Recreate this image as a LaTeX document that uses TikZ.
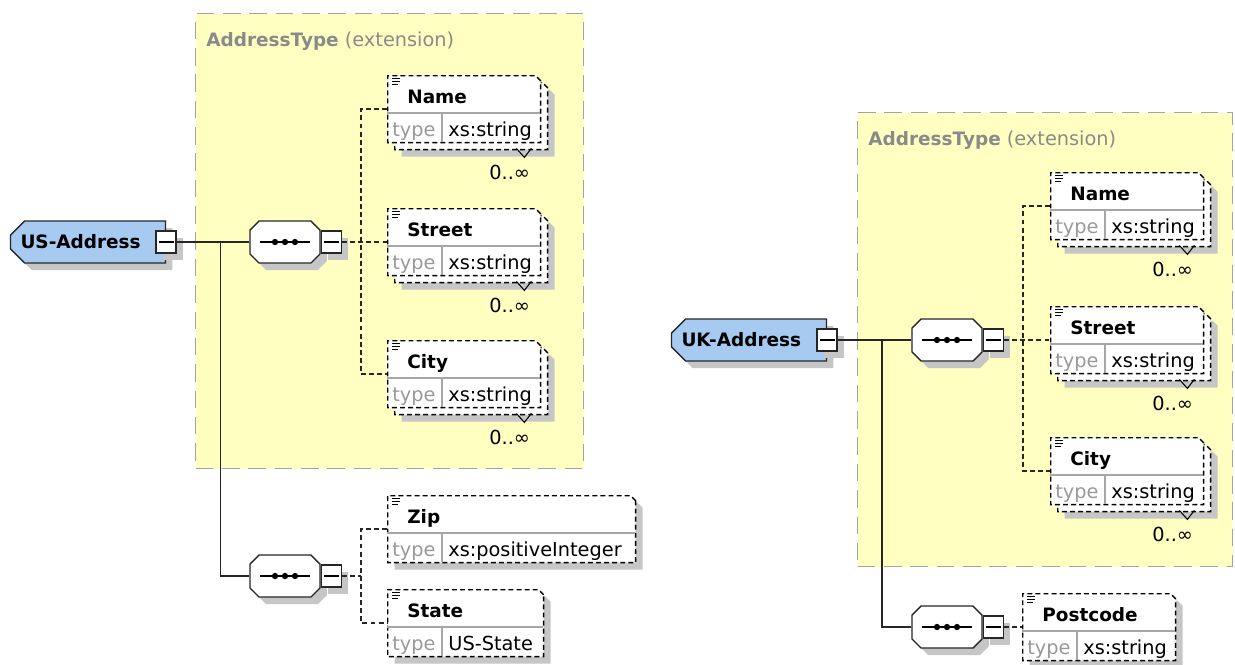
\documentclass[tikz,border=0pt]{standalone}
\usepackage{fontspec}
\setmainfont{DejaVu Sans}
\usepackage{tikz}
\usetikzlibrary{positioning, shapes.misc, shadows, calc}

\definecolor{extyellow}{HTML}{FFFFC2}
\definecolor{typeblue}{HTML}{A6CAF0}
\definecolor{shadowgray}{HTML}{C6C6C6}
\definecolor{framegray}{HTML}{A3A3A3}
\definecolor{labelgray}{HTML}{8A8A8A}

\begin{document}
\begin{tikzpicture}[
        x=0.02cm, y=-0.02cm,
        font=\fontsize{11}{13}\selectfont,
        shadowed/.style={drop shadow={shadow xshift=0.14cm, shadow yshift=-0.14cm,
                         fill=shadowgray, opacity=1}},
        extbox/.style={draw=framegray, fill=extyellow, line width=0.8pt,
                       dash pattern=on 10pt off 5pt, anchor=north west, inner sep=0pt},
        extlabel/.style={anchor=base west, inner sep=0pt, text=labelgray},
        typenode/.style={chamfered rectangle, chamfered rectangle corners={north west, south west},
                         chamfered rectangle xsep=0.14cm, chamfered rectangle ysep=0.14cm,
                         draw=black!85, fill=typeblue,
                         line width=0.8pt, text width=2.7cm, align=left,
                         minimum height=0.84cm, inner xsep=0.06cm, inner ysep=0pt,
                         font=\bfseries\fontsize{10.5}{12}\selectfont, shadowed},
        seqnode/.style={chamfered rectangle, chamfered rectangle xsep=0.09cm,
                        chamfered rectangle ysep=0.09cm, draw=black!85,
                        fill=white, line width=0.8pt, inner xsep=0.61cm,
                        inner ysep=0.33cm, shadowed,
                        path picture={
                            \draw[black, line width=0.9pt] ([xshift=-0.5cm]path picture bounding box.center)
                                -- ([xshift=0.5cm]path picture bounding box.center);
                            \fill[black] ([xshift=-0.2cm]path picture bounding box.center) circle (1.8pt)
                                  (path picture bounding box.center) circle (1.8pt)
                                  ([xshift=0.2cm]path picture bounding box.center) circle (1.8pt);}},
        minusbox/.style={draw=black!85, fill=white, line width=0.8pt, minimum width=0.4cm,
                         minimum height=0.44cm, inner sep=0pt, shadowed,
                         path picture={
                            \draw[black, line width=0.7pt] ([xshift=1.5pt]path picture bounding box.west)
                                -- ([xshift=-1.5pt]path picture bounding box.east);}},
        conn/.style={draw=black!85, line width=0.8pt},
        dconn/.style={conn, dash pattern=on 2.8pt off 1.8pt},
        elembox/.style={chamfered rectangle, chamfered rectangle corners=north east,
                        chamfered rectangle xsep=0.05cm, chamfered rectangle ysep=0.05cm,
                        anchor=north west, draw=black,
                        fill=white, line width=0.8pt, dash pattern=on 2.8pt off 1.8pt,
                        inner xsep=#1/2-0.05cm, inner ysep=0.62cm},
        backbox/.style={elembox=3.06cm, shadowed},
        elemname/.style={anchor=base west, inner sep=0pt,
                         font=\bfseries\fontsize{10.5}{12}\selectfont},
        typetext/.style={anchor=base west, inner sep=0pt, text=black!40},
        valtext/.style={anchor=base west, inner sep=0pt},
        cellline/.style={draw=black!35, line width=0.6pt},
        listicon/.style={line width=0.5pt},
        chevron/.style={line width=0.6pt},
        multlabel/.style={anchor=base east, inner sep=0pt},
        pics/elem/.style n args={4}{code={
            \node[elembox=#3, #4] (-box) at (0,0) {};
            \draw[listicon] (5,3) -- (13,3) (5,6) -- (13,6) (5,9) -- (11,9);
            \node[elemname] (-name) at (20,28) {#1};
            \draw[cellline] (0,38) -- ++(#3,0) (55,38) -- (55,67);
            \node[typetext] (-type) at (5,61) {type};
            \node[valtext] (-val) at (61,61) {#2};
            \coordinate (-in) at (0,34);
        }}
    ]
    \useasboundingbox (0,0) rectangle (1235,664);

    % extension frames
    \node[extbox, minimum width=7.76cm, minimum height=9.1cm] (usext) at (195,13) {};
    \node[extlabel] (usextlabel) at ([shift={(11,33)}]usext.north west)
        {{\bfseries\fontsize{10.5}{12}\selectfont AddressType} (extension)};
    \node[extbox, minimum width=7.5cm, minimum height=9.08cm] (ukext) at (857,112) {};
    \node[extlabel] (ukextlabel) at ([shift={(11,33)}]ukext.north west)
        {{\bfseries\fontsize{10.5}{12}\selectfont AddressType} (extension)};

    % US-Address
    \node[typenode] (usaddr) at (88,242) {US-Address};
    \node[minusbox] (usminus) at (usaddr.east) {};
    \node[seqnode] (usseq1) at (285,242) {};
    \node[minusbox, right=0pt of usseq1] (usseq1m) {};
    \node[seqnode] (usseq2) at (285,576) {};
    \node[minusbox, right=0pt of usseq2] (usseq2m) {};

    \node[backbox] (usnameb) at (394,82) {};
    \draw[chevron] ([shift={(-32,-2)}]usnameb.south east) -- ++(8,9) -- ++(7,-9);
    \node[multlabel] (usnamem) at ([shift={(-18,29)}]usnameb.south east) {0..∞};
    \pic (usname) at (387,75) {elem={Name}{xs:string}{3.06cm}{}};

    \node[backbox] (usstreetb) at (394,215) {};
    \draw[chevron] ([shift={(-32,-2)}]usstreetb.south east) -- ++(8,9) -- ++(7,-9);
    \node[multlabel] (usstreetm) at ([shift={(-18,29)}]usstreetb.south east) {0..∞};
    \pic (usstreet) at (387,208) {elem={Street}{xs:string}{3.06cm}{}};

    \node[backbox] (uscityb) at (394,347) {};
    \draw[chevron] ([shift={(-32,-2)}]uscityb.south east) -- ++(8,9) -- ++(7,-9);
    \node[multlabel] (uscitym) at ([shift={(-18,29)}]uscityb.south east) {0..∞};
    \pic (uscity) at (387,340) {elem={City}{xs:string}{3.06cm}{}};

    \pic (uszip) at (387,495) {elem={Zip}{xs:positiveInteger}{4.96cm}{shadowed}};
    \pic (usstate) at (387,589) {elem={State}{US-State}{3.12cm}{shadowed}};

    % UK-Address
    \node[typenode] (ukaddr) at (749,340) {UK-Address};
    \node[minusbox] (ukminus) at (ukaddr.east) {};
    \node[seqnode] (ukseq1) at (947,340) {};
    \node[minusbox, right=0pt of ukseq1] (ukseq1m) {};
    \node[seqnode] (ukseq2) at (947,627) {};
    \node[minusbox, right=0pt of ukseq2] (ukseq2m) {};

    \node[backbox] (uknameb) at (1057,179) {};
    \draw[chevron] ([shift={(-32,-2)}]uknameb.south east) -- ++(8,9) -- ++(7,-9);
    \node[multlabel] (uknamem) at ([shift={(-18,29)}]uknameb.south east) {0..∞};
    \pic (ukname) at (1050,172) {elem={Name}{xs:string}{3.06cm}{}};

    \node[backbox] (ukstreetb) at (1057,313) {};
    \draw[chevron] ([shift={(-32,-2)}]ukstreetb.south east) -- ++(8,9) -- ++(7,-9);
    \node[multlabel] (ukstreetm) at ([shift={(-18,29)}]ukstreetb.south east) {0..∞};
    \pic (ukstreet) at (1050,306) {elem={Street}{xs:string}{3.06cm}{}};

    \node[backbox] (ukcityb) at (1057,444) {};
    \draw[chevron] ([shift={(-32,-2)}]ukcityb.south east) -- ++(8,9) -- ++(7,-9);
    \node[multlabel] (ukcitym) at ([shift={(-18,29)}]ukcityb.south east) {0..∞};
    \pic (ukcity) at (1050,437) {elem={City}{xs:string}{3.06cm}{}};

    \pic (ukpost) at (1022,593) {elem={Postcode}{xs:string}{3.06cm}{shadowed}};

    % connectors
    \draw[conn] (usminus.east) -- (usseq1.west);
    \draw[conn] ($(usminus.east)!0.6!(usseq1.west)$) |- (usseq2.west);
    \coordinate (usspine1) at ($(usseq1m.east)+(19,0)$);
    \coordinate (usspine2) at ($(usseq2m.east)+(19,0)$);
    \draw[dconn] (usseq1m.east) -- (usstreet-in);
    \draw[dconn] (usname-in) -| (usspine1) |- (uscity-in);
    \draw[dconn] (usseq2m.east) -- (usspine2);
    \draw[dconn] (uszip-in) -| (usspine2) |- (usstate-in);

    \draw[conn] (ukminus.east) -- (ukseq1.west);
    \draw[conn] ($(ukminus.east)!0.6!(ukseq1.west)$) |- (ukseq2.west);
    \coordinate (ukspine1) at ($(ukseq1m.east)+(19,0)$);
    \draw[dconn] (ukseq1m.east) -- (ukstreet-in);
    \draw[dconn] (ukname-in) -| (ukspine1) |- (ukcity-in);
    \draw[dconn] (ukseq2m.east) -- (ukpost-in);
\end{tikzpicture}
\end{document}
